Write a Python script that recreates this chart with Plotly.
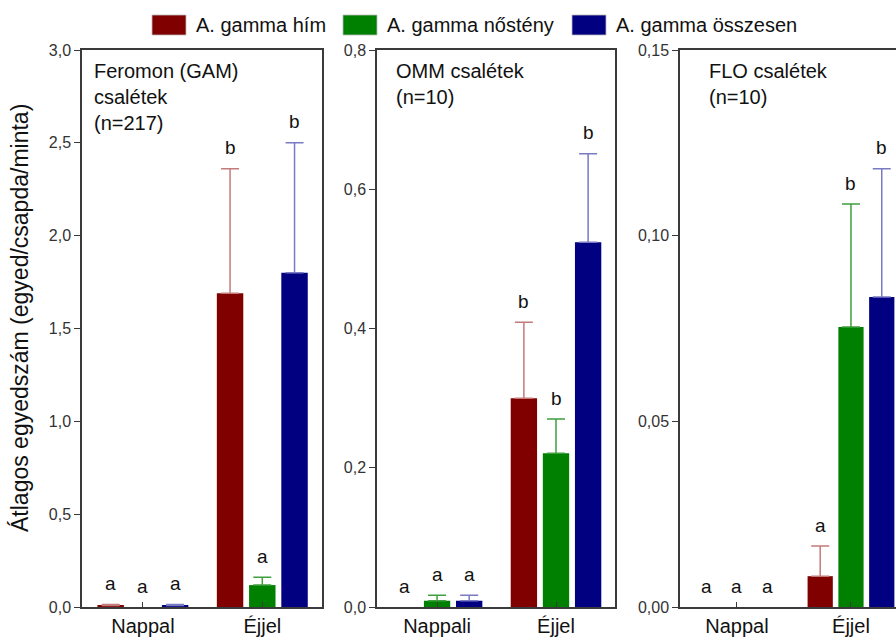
import plotly.graph_objects as go

# ---------------- data ----------------
series_names = ["A. gamma hím", "A. gamma nőstény", "A. gamma összesen"]
series_colors = ["#800000", "#008000", "#000080"]
error_colors = ["#c47a7a", "#3f9f3f", "#7a7ac4"]

panel_titles = ["Feromon (GAM)<br>csalétek<br>(n=217)", "OMM csalétek<br>(n=10)", "FLO csalétek<br>(n=10)"]

cats_p1 = ["Nappal", "Éjjel"]
cats_p2 = ["Nappali", "Éjjel"]
cats_p3 = ["Nappal", "Éjjel"]

# panel 1: Feromon (GAM)   (None = no error bar drawn)
p1_him = [0.008, 1.69]
p1_him_err = [0.006, 0.67]
p1_nosteny = [0.0, 0.118]
p1_nosteny_err = [None, 0.042]
p1_ossz = [0.008, 1.80]
p1_ossz_err = [0.006, 0.70]
p1_letters = [["a", "b"], ["a", "a"], ["a", "b"]]

# panel 2: OMM
p2_him = [0.0, 0.300]
p2_him_err = [None, 0.109]
p2_nosteny = [0.009, 0.221]
p2_nosteny_err = [0.008, 0.049]
p2_ossz = [0.009, 0.524]
p2_ossz_err = [0.008, 0.127]
p2_letters = [["a", "b"], ["a", "b"], ["a", "b"]]

# panel 3: FLO
p3_him = [0.0, 0.0083]
p3_him_err = [None, 0.0081]
p3_nosteny = [0.0, 0.0754]
p3_nosteny_err = [None, 0.0331]
p3_ossz = [0.0, 0.0835]
p3_ossz_err = [None, 0.0345]
p3_letters = [["a", "a"], ["a", "b"], ["a", "b"]]

y_max = [3.0, 0.8, 0.15]
y_dtick = [0.5, 0.2, 0.05]
y_fmt = [".1f", ".1f", ".2f"]

panels = [
    (cats_p1, [p1_him, p1_nosteny, p1_ossz], [p1_him_err, p1_nosteny_err, p1_ossz_err], p1_letters),
    (cats_p2, [p2_him, p2_nosteny, p2_ossz], [p2_him_err, p2_nosteny_err, p2_ossz_err], p2_letters),
    (cats_p3, [p3_him, p3_nosteny, p3_ossz], [p3_him_err, p3_nosteny_err, p3_ossz_err], p3_letters),
]

# ---------------- layout geometry ----------------
W, H = 896, 638
x_domains = [(82 / W, 322 / W), (377 / W, 615 / W), (680 / W, 1.0)]
x_ranges = [[-0.51, 1.5], [-0.505, 1.496], [-0.5, 1.395]]
y_dom = ((638 - 607) / H, (638 - 50) / H)

FONT = "Liberation Sans, Arial, sans-serif"
AXC = "#3a3a3a"

fig = go.Figure()
annotations = []

for p, (cats, vals, errs, letters) in enumerate(panels):
    xa = "x" if p == 0 else f"x{p+1}"
    ya = "y" if p == 0 else f"y{p+1}"
    px_per_unit = (x_domains[p][1] - x_domains[p][0]) * W / (x_ranges[p][1] - x_ranges[p][0])
    for s in range(3):
        # a zero mean with no error is simply not drawn (no bar, no cap)
        y_plot = [None if (v == 0 and e is None) else v for v, e in zip(vals[s], errs[s])]
        e_plot = [0 if e is None else e for e in errs[s]]
        fig.add_trace(go.Bar(
            x=cats, y=y_plot, name=series_names[s],
            marker=dict(color=series_colors[s], line=dict(width=0)),
            error_y=dict(type="data", symmetric=False, array=e_plot,
                         arrayminus=[0] * len(e_plot),
                         color=error_colors[s], thickness=1.5, width=9),
            xaxis=xa, yaxis=ya, showlegend=False, offsetgroup=str(s),
        ))
        # significance letters
        for i, c in enumerate(cats):
            top = vals[s][i] + (errs[s][i] or 0)
            annotations.append(dict(
                x=c, y=top, xref=xa, yref=ya,
                text=letters[s][i], showarrow=False, yanchor="middle",
                yshift=21, xshift=(s - 1) * 0.27 * px_per_unit,
                font=dict(family=FONT, size=19, color="#111"),
            ))
    # panel title
    annotations.append(dict(
        x=x_domains[p][0] + [10, 17, 27][p] / W, y=(638 - 58) / H,
        xref="paper", yref="paper", xanchor="left", yanchor="top",
        text=panel_titles[p], showarrow=False, align="left",
        font=dict(family=FONT, size=20, color="#111"),
    ))

    axis_x = dict(domain=list(x_domains[p]), range=x_ranges[p], type="category",
                  showline=True, linecolor=AXC, linewidth=1.5, mirror=True,
                  ticks="inside", ticklen=5, tickcolor=AXC, tickwidth=1,
                  tickfont=dict(family=FONT, size=20, color="#111"),
                  showgrid=False, zeroline=False, anchor=ya, fixedrange=True,
                  automargin=False)
    axis_y = dict(domain=list(y_dom), range=[0, y_max[p]], dtick=y_dtick[p],
                  tickformat=y_fmt[p], showline=True, linecolor=AXC, linewidth=1.5,
                  mirror=(p < 2), ticks="outside", ticklen=6, tickcolor=AXC,
                  tickfont=dict(family=FONT, size=16, color="#333"),
                  showgrid=False, zeroline=False, anchor=xa, fixedrange=True,
                  automargin=False)
    fig.layout["xaxis" if p == 0 else f"xaxis{p+1}"] = axis_x
    fig.layout["yaxis" if p == 0 else f"yaxis{p+1}"] = axis_y

# y-axis title
annotations.append(dict(
    x=20 / W, y=(638 - 318) / H, xref="paper", yref="paper",
    text="Átlagos egyedszám (egyed/csapda/minta)", textangle=-90,
    showarrow=False, xanchor="center", yanchor="middle",
    font=dict(family=FONT, size=23, color="#111"),
))

# legend (manual, wide swatches as in the original)
shapes = []
legend_swatch_x = [152, 343, 572]
for s in range(3):
    x0 = legend_swatch_x[s]
    shapes.append(dict(type="rect", xref="paper", yref="paper",
                       x0=x0 / W, x1=(x0 + 34) / W,
                       y0=(638 - 35) / H, y1=(638 - 15) / H,
                       fillcolor=series_colors[s], line=dict(width=0.8, color="#bbb")))
    annotations.append(dict(
        x=(x0 + 42) / W, y=(638 - 25) / H, xref="paper", yref="paper",
        xanchor="left", yanchor="middle", text=series_names[s], showarrow=False,
        font=dict(family=FONT, size=20, color="#111"),
    ))

fig.update_layout(
    width=W, height=H,
    margin=dict(l=0, r=0, t=0, b=0, autoexpand=False),
    paper_bgcolor="white", plot_bgcolor="white",
    barmode="group", bargap=0.19, bargroupgap=0.18,
    separators=",.",
    annotations=annotations, shapes=shapes,
    showlegend=False,
    font=dict(family=FONT),
)

fig.write_html("out.html", config={"displayModeBar": False})
